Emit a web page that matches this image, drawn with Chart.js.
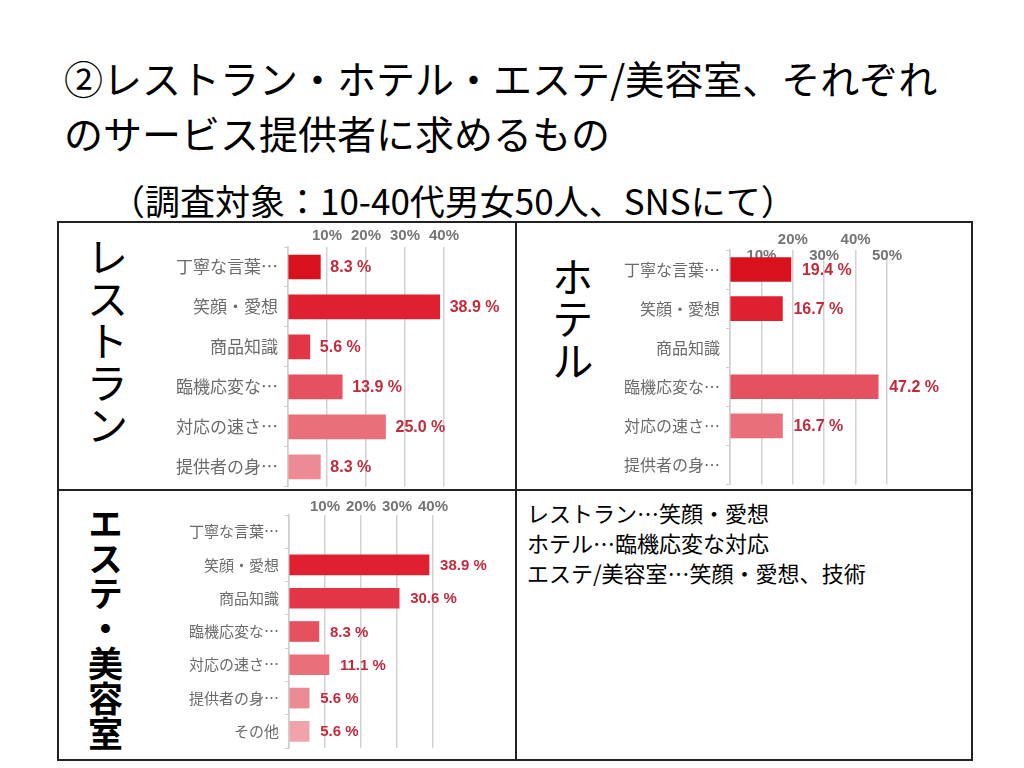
<!DOCTYPE html>
<html>
<head>
<meta charset="utf-8">
<script src="https://cdn.jsdelivr.net/npm/chart.js@4"></script>
<style>
  body { margin: 0; width: 1024px; height: 768px; background: #fff; position: relative; overflow: hidden;
         font-family: "Noto Sans CJK JP", "Noto Sans", sans-serif; color: #000; }
  .abs { position: absolute; }
  .title { left: 64px; top: 50px; font-size: 39px; line-height: 55px; white-space: nowrap; }
  .sub { left: 110px; top: 180px; font-size: 35px; line-height: 40px; white-space: nowrap; }
  .line { background: #222; }
  .vert { writing-mode: vertical-rl; text-orientation: upright; line-height: 1; }
  .note { left: 527px; top: 497px; font-size: 22px; line-height: 30px; white-space: nowrap; }
</style>
</head>
<body>
<div class="abs title">②レストラン・ホテル・エステ/美容室、それぞれ<br>のサービス提供者に求めるもの</div>
<div class="abs sub">（調査対象：10-40代男女50人、SNSにて）</div>

<!-- table lines -->
<div class="abs line" style="left:57px;top:221px;width:916px;height:2px"></div>
<div class="abs line" style="left:57px;top:759px;width:916px;height:2px"></div>
<div class="abs line" style="left:57px;top:221px;width:2px;height:540px"></div>
<div class="abs line" style="left:971px;top:221px;width:2px;height:540px"></div>
<div class="abs line" style="left:515px;top:221px;width:2px;height:540px"></div>
<div class="abs line" style="left:57px;top:489px;width:916px;height:2px"></div>

<div class="abs vert" style="left:86px;top:236px;font-size:42px">レストラン</div>
<div class="abs vert" style="left:551px;top:256px;font-size:42px">ホテル</div>
<div class="abs vert" style="left:88px;top:506px;font-size:35px;font-weight:bold">エステ・美容室</div>

<div class="abs note">レストラン…笑顔・愛想<br>ホテル…臨機応変な対応<br>エステ/美容室…笑顔・愛想、技術</div>

<div class="abs" style="left:175px;top:225px;width:340px;height:278px"><canvas id="restaurant"></canvas></div>
<div class="abs" style="left:600px;top:225px;width:370px;height:275px"><canvas id="hotel"></canvas></div>
<div class="abs" style="left:175px;top:492px;width:340px;height:271px"><canvas id="este"></canvas></div>

<script>
const categories = ['丁寧な言葉…', '笑顔・愛想', '商品知識', '臨機応変な…', '対応の速さ…', '提供者の身…'];
const categoriesEste = ['丁寧な言葉…', '笑顔・愛想', '商品知識', '臨機応変な…', '対応の速さ…', '提供者の身…', 'その他'];

const restaurantValues = [8.3, 38.9, 5.6, 13.9, 25.0, 8.3];
const hotelValues = [19.4, 16.7, 0, 47.2, 16.7, 0];
const esteValues = [0, 38.9, 30.6, 8.3, 11.1, 5.6, 5.6];

const ticks40 = ['', '10%', '20%', '30%', '40%'];
const ticksHotel = [['', ''], ['', '10%'], ['20%', ''], ['', '30%'], ['40%', ''], ['', '50%']];

const barColors = ['#d9111d', '#df2030', '#e23646', '#e5515e', '#e96f7a', '#ec8b94', '#f0a3aa'];

// draws "xx.x %" after each bar
const valueLabels = {
  id: 'valueLabels',
  afterDatasetsDraw(chart, args, opts) {
    const ctx = chart.ctx;
    const meta = chart.getDatasetMeta(0);
    const vals = chart.data.datasets[0].data;
    ctx.save();
    ctx.font = 'bold ' + opts.size + 'px "Liberation Sans", Arial, sans-serif';
    ctx.fillStyle = '#c42a3b';
    ctx.textBaseline = 'middle';
    meta.data.forEach((bar, i) => {
      if (!vals[i]) return;
      ctx.fillText(vals[i].toFixed(1) + ' %', bar.x + opts.gap, bar.y + 1);
    });
    ctx.restore();
  }
};

function makeChart(id, labels, values, cfg) {
  const ctx = document.getElementById(id);
  return new Chart(ctx, {
    type: 'bar',
    data: {
      labels: labels,
      datasets: [{
        data: values,
        backgroundColor: values.map((v, i) => v ? barColors[i] : 'rgba(0,0,0,0)'),
        borderWidth: 0,
        barThickness: cfg.bar
      }]
    },
    options: {
      indexAxis: 'y',
      responsive: true,
      maintainAspectRatio: false,
      animation: false,
      layout: { padding: { left: 0, right: cfg.padRight, top: 0, bottom: 0 } },
      plugins: {
        legend: { display: false },
        tooltip: { enabled: false },
        valueLabels: { size: cfg.valSize, gap: cfg.gap }
      },
      scales: {
        x: {
          position: 'top',
          min: 0,
          max: cfg.max,
          afterFit: s => { s.height = cfg.xHeight; },
          grid: { color: '#d2d2d2', lineWidth: 1.5, drawTicks: false },
          border: { display: false },
          ticks: {
            stepSize: 10,
            autoSkip: false,
            maxRotation: 0,
            mirror: !!cfg.mirror,
            padding: cfg.tickPad,
            color: '#747474',
            font: { family: '"Liberation Sans", Arial, sans-serif', size: 15, weight: 'bold', lineHeight: 1.05 },
            callback: (v, i) => cfg.tickLabels[i]
          }
        },
        y: {
          afterFit: s => { s.width = cfg.yWidth; },
          grid: { offset: true, drawOnChartArea: false, color: '#cfcfcf', tickLength: 4 },
          border: { display: true, color: '#cfcfcf', width: 1.5 },
          ticks: {
            padding: 6,
            color: '#6b6b6b',
            font: { family: '"Noto Sans CJK JP", sans-serif', size: cfg.catSize }
          }
        }
      }
    },
    plugins: [valueLabels]
  });
}

makeChart('restaurant', categories, restaurantValues, {
  max: 40, yWidth: 113, xHeight: 22, padRight: 71, bar: 24, tickPad: 3,
  tickLabels: ticks40, valSize: 16, gap: 10, catSize: 17
});
makeChart('hotel', categories, hotelValues, {
  max: 50, yWidth: 130, xHeight: 25, padRight: 83, bar: 24, tickPad: -34, mirror: true,
  tickLabels: ticksHotel, valSize: 16, gap: 11, catSize: 16
});
makeChart('este', categoriesEste, esteValues, {
  max: 40, yWidth: 114, xHeight: 23, padRight: 82, bar: 20, tickPad: 0,
  tickLabels: ticks40, valSize: 15, gap: 11, catSize: 15
});
</script>
</body>
</html>
